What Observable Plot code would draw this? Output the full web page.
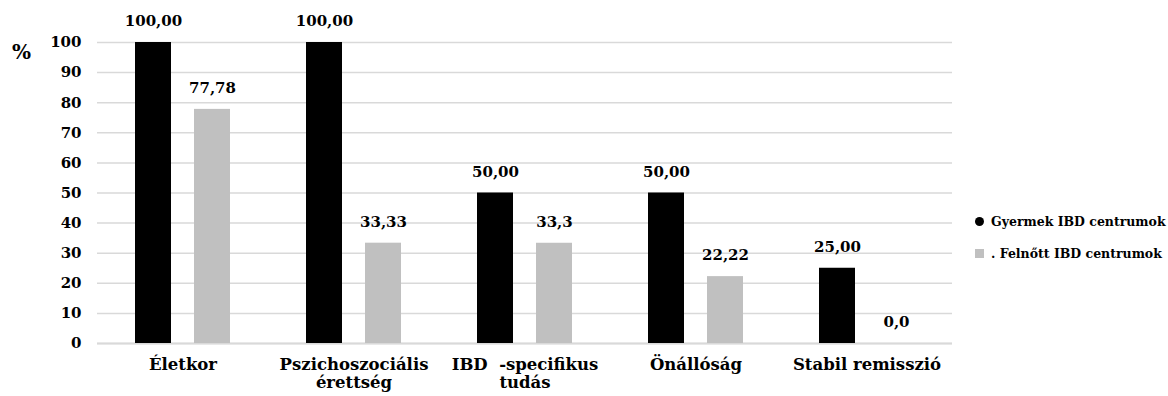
<!DOCTYPE html>
<html>
<head>
<meta charset="utf-8">
<script src="https://cdn.jsdelivr.net/npm/d3@7"></script>
<script src="https://cdn.jsdelivr.net/npm/@observablehq/plot@0.6"></script>
<style>
  body { margin: 0; background: #fff; }
  #chart { position: relative; width: 1168px; height: 396px; font-family: "DejaVu Serif", "Liberation Serif", serif; font-weight: bold; color: #000; }
  #chart svg { position: absolute; left: 0; top: 0; }
  .unit { position: absolute; left: 12px; top: 40px; font-size: 20px; }
  .legend { position: absolute; left: 975px; font-size: 12.5px; white-space: nowrap; }
  .legend .sw { display: inline-block; width: 9px; height: 9px; margin-right: 7px; vertical-align: 0px; }
</style>
</head>
<body>
<div id="chart">
  <div class="unit">%</div>
  <div class="legend" style="top:214px"><span class="sw" style="background:#000;border-radius:50%"></span>Gyermek IBD centrumok</div>
  <div class="legend" style="top:246px"><span class="sw" style="background:#c0c0c0"></span>. Felnőtt IBD centrumok</div>
</div>
<script>
// Categories (two-line labels use a line break)
const categories = ["Életkor", "Pszichoszociális\nérettség", "IBD\u00a0\u00a0-specifikus\ntudás", "Önállóság", "Stabil remisszió"];
const series = ["Gyermek IBD centrumok", "Felnőtt IBD centrumok"];

// Percentages per group
const gyermekValues = [100, 100, 50, 50, 25];
const felnottValues = [77.78, 33.33, 33.3, 22.22, 0];
const gyermekLabels = ["100,00", "100,00", "50,00", "50,00", "25,00"];
const felnottLabels = ["77,78", "33,33", "33,3", "22,22", "0,0"];

const yTicks = [0, 10, 20, 30, 40, 50, 60, 70, 80, 90, 100];

const rows = [];
categories.forEach((cat, i) => {
  rows.push({cat, series: series[0], value: gyermekValues[i], label: gyermekLabels[i]});
  rows.push({cat, series: series[1], value: felnottValues[i], label: felnottLabels[i]});
});

const serif = "'DejaVu Serif', 'Liberation Serif', serif";

const chart = Plot.plot({
  width: 1168,
  height: 396,
  marginLeft: 96,
  marginRight: 215,
  marginTop: 42,
  marginBottom: 53,
  style: {fontFamily: serif, fontWeight: "bold", color: "#000", background: "transparent"},
  fx: {domain: categories, padding: 0, label: null},
  x: {domain: series, paddingInner: 0.383, paddingOuter: 0.617, axis: null},
  y: {domain: [0, 100], label: null},
  color: {domain: series, range: ["#000000", "#c0c0c0"]},
  marks: [
    Plot.gridY(yTicks, {stroke: "#d9d9d9", strokeOpacity: 1, strokeWidth: 1.5}),
    Plot.ruleY([0], {stroke: "#d9d9d9", strokeWidth: 2}),
    Plot.axisY(yTicks, {tickSize: 0, tickPadding: 16, fontSize: 15, fontWeight: "bold", fontFamily: serif, label: null}),
    Plot.axisFx({anchor: "bottom", tickSize: 0, tickPadding: 14, fontSize: 16.5, fontWeight: "bold", fontFamily: serif, lineHeight: 1.08, label: null}),
    Plot.barY(rows, {fx: "cat", x: "series", y: "value", fill: "series"}),
    Plot.text(rows, {fx: "cat", x: "series", y: "value", text: "label", dy: -21, fontSize: 15, fontWeight: "bold", fontFamily: serif, fill: "#000"})
  ]
});

document.getElementById("chart").prepend(chart);
</script>
</body>
</html>
